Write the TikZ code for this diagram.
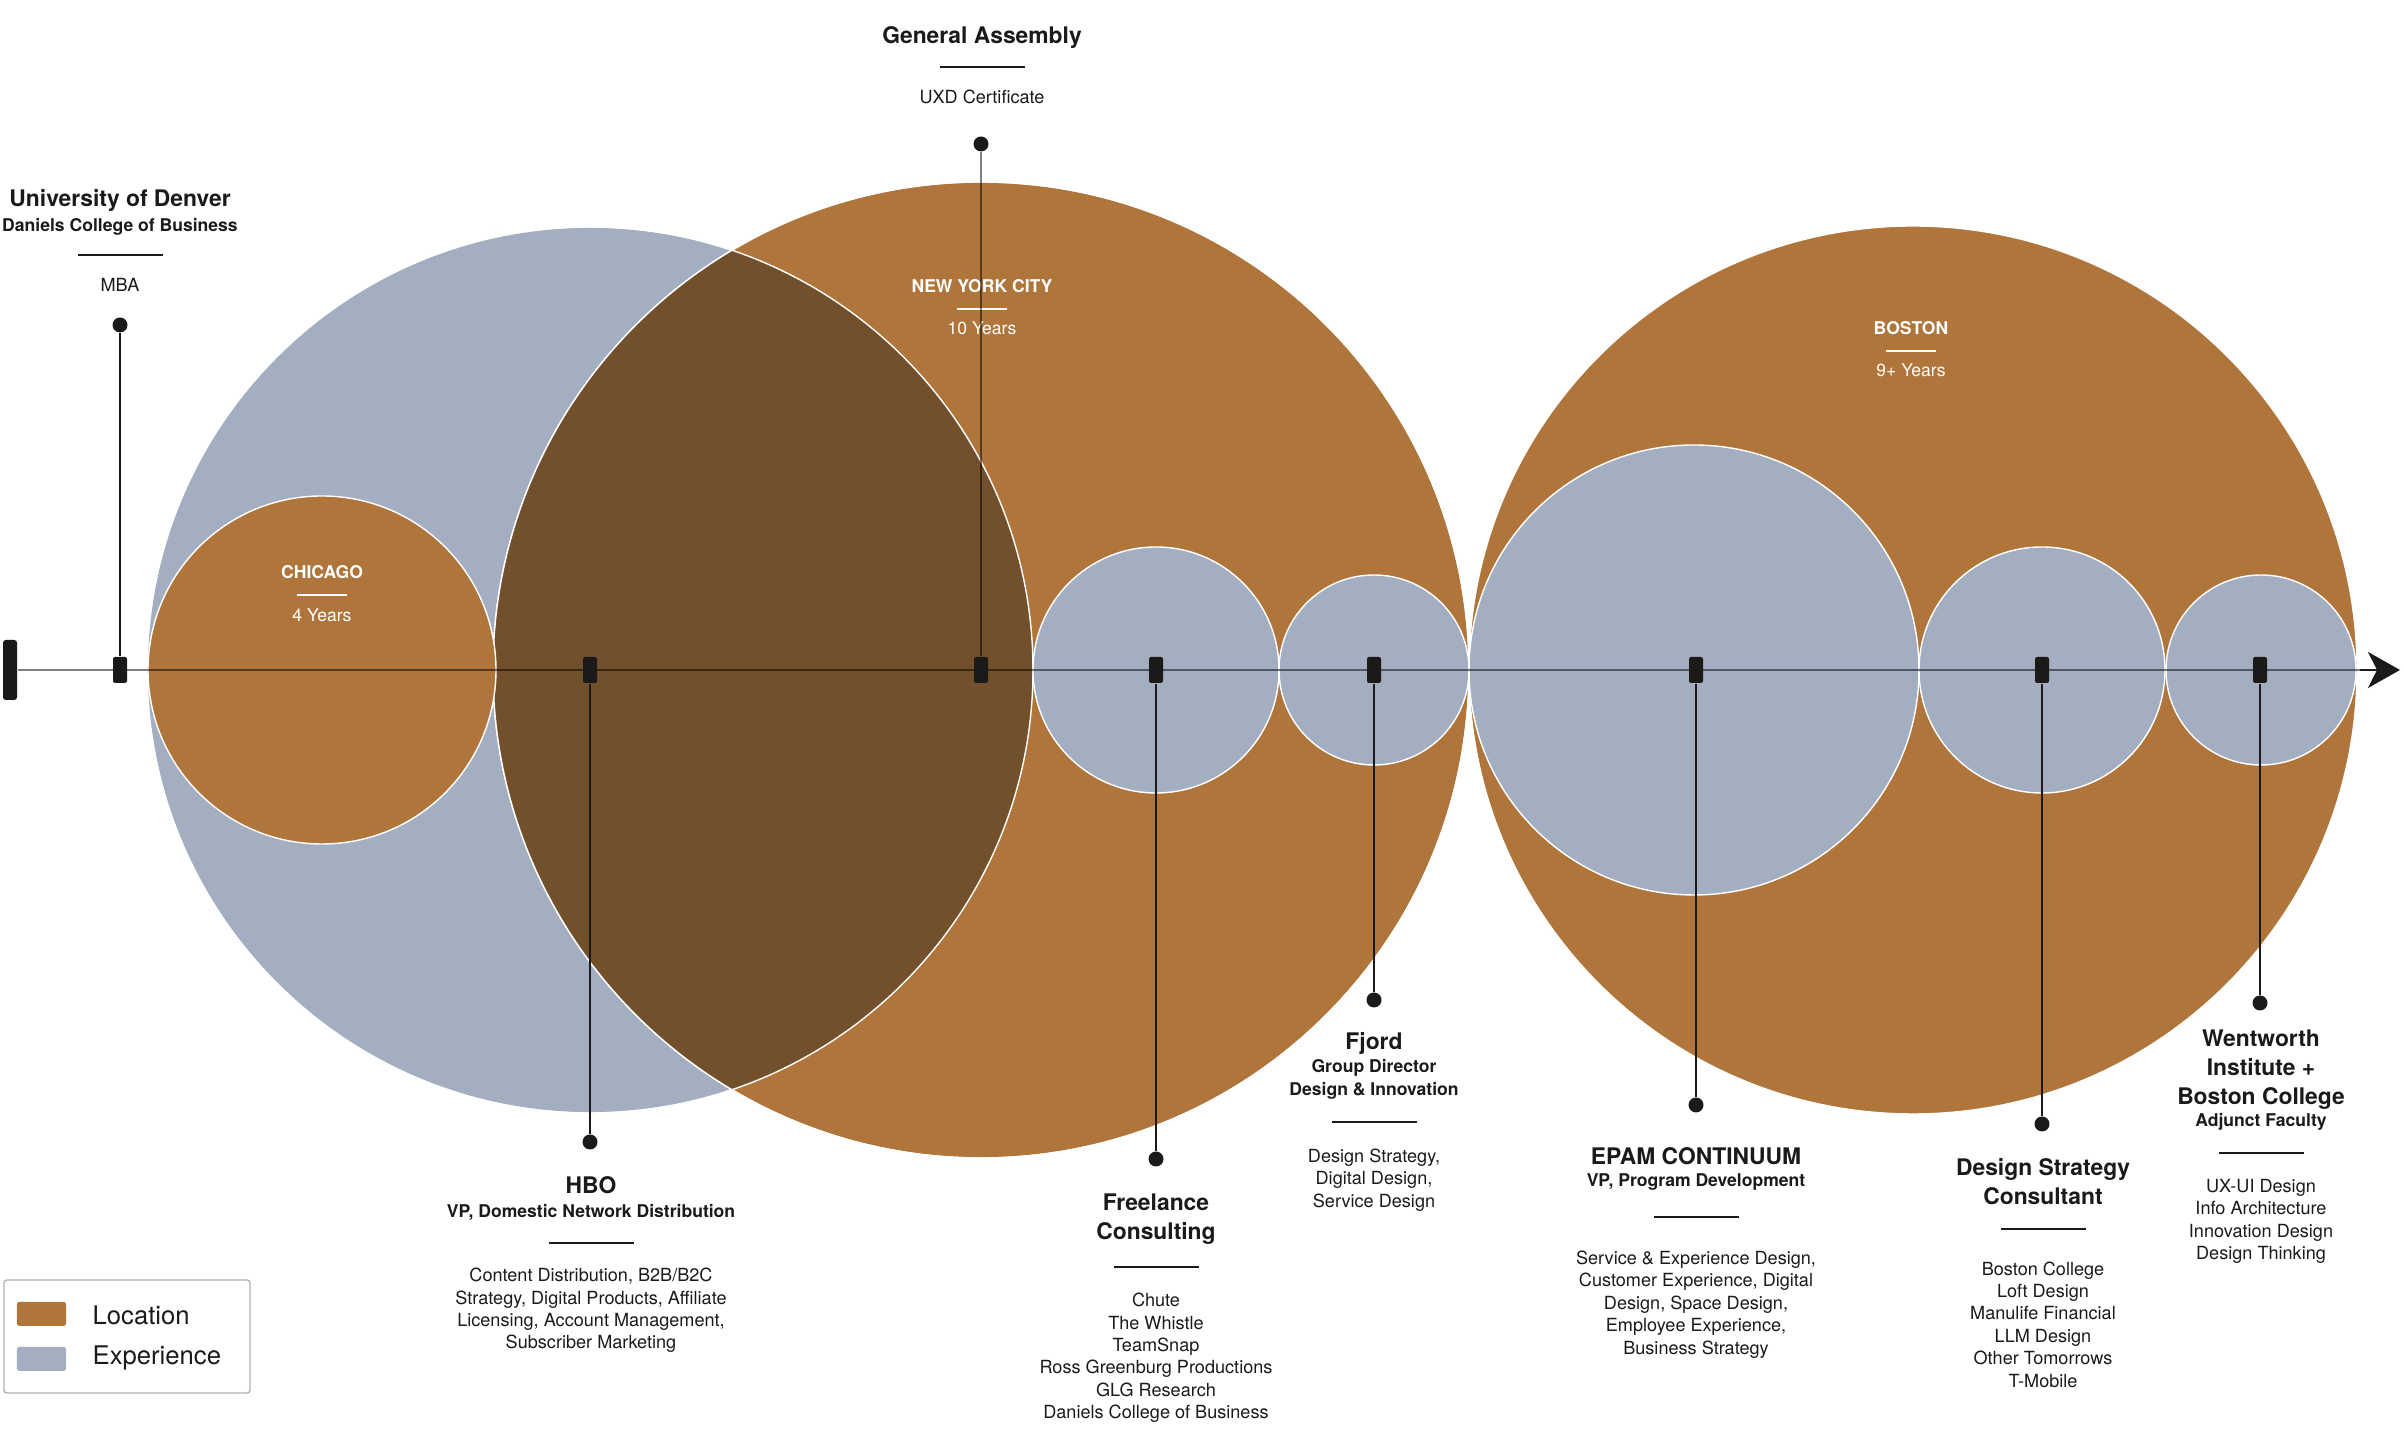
\documentclass[tikz,border=0pt]{standalone}
\usepackage{fontspec}
\setmainfont{TeX Gyre Heros}
\usetikzlibrary{arrows.meta}
\definecolor{location}{HTML}{B0753A}
\definecolor{experience}{HTML}{A3AEC1}
\definecolor{overlap}{HTML}{72502C}
\definecolor{ink}{HTML}{1C1A18}
\newcommand\cvTitle{\fontsize{6.5}{8.25}\selectfont\bfseries}
\newcommand\cvSub{\fontsize{5.0}{6.5}\selectfont\bfseries}
\newcommand\cvBody{\fontsize{5.15}{6.37}\selectfont}
\newcommand\cvCity{\fontsize{5.0}{6}\selectfont}
\newcommand\cvLegend{\fontsize{7.3}{9}\selectfont}

\begin{document}
\begin{tikzpicture}[
  every node/.style={inner sep=0pt, text=ink},
  locdisc/.style={fill=location, draw=white, line width=0.4pt},
  expdisc/.style={fill=experience, draw=white, line width=0.4pt},
  axisline/.style={draw=black, draw opacity=0.5, line width=0.57pt},
  stemline/.style={draw=ink, line width=0.43pt},
  axmark/.style={rectangle, fill=ink, rounded corners=0.6pt, minimum width=0.14cm, minimum height=0.26cm},
  startbar/.style={rectangle, fill=ink, rounded corners=0.8pt, minimum width=0.14cm, minimum height=0.60cm},
  dotpin/.style={circle, fill=ink, minimum size=0.15cm},
  sepline/.style={rectangle, fill=ink, minimum width=0.85cm, minimum height=0.3pt},
  cityline/.style={rectangle, fill=white, minimum width=0.5cm, minimum height=0.3pt},
  hdtxt/.style={font=\cvTitle, align=center},
  subtxt/.style={font=\cvSub, align=center},
  bodytxt/.style={font=\cvBody, align=center},
  citytxt/.style={font=\cvCity, text=white, align=center},
  legendbox/.style={rectangle, draw=black!30, line width=0.4pt, rounded corners=0.8pt, minimum width=2.46cm, minimum height=1.13cm},
  swatch/.style={rectangle, rounded corners=0.5pt, minimum width=0.49cm, minimum height=0.24cm}
]
  \useasboundingbox (0,6.70) rectangle (24.04,-7.83);

  % location and experience discs
  \draw[expdisc] (5.90,0) circle (4.43);
  \draw[locdisc] (9.81,0) circle (4.88);
  \begin{scope}
    \clip (5.90,0) circle (4.43);
    \fill[overlap] (9.81,0) circle (4.88);
  \end{scope}
  \draw[white, line width=0.4pt] (5.90,0) circle (4.43) (9.81,0) circle (4.88);
  \draw[locdisc] (3.22,0) circle (1.74);
  \draw[expdisc] (11.56,0) circle (1.23);
  \draw[expdisc] (13.74,0) circle (0.95);
  \draw[locdisc] (19.13,0) circle (4.44);
  \draw[expdisc] (16.94,0) circle (2.25);
  \draw[expdisc] (20.42,0) circle (1.23);
  \draw[expdisc] (22.61,0) circle (0.95);

  % city labels
  \node[citytxt, font=\cvCity\bfseries] (chiT) at (3.22,0.98) {CHICAGO};
  \node[cityline] (chiR) at (3.22,0.75) {};
  \node[citytxt] (chiY) at (3.22,0.55) {4 Years};
  \node[citytxt, font=\cvCity\bfseries] (nycT) at (9.82,3.84) {NEW YORK CITY};
  \node[cityline] (nycR) at (9.82,3.61) {};
  \node[citytxt] (nycY) at (9.82,3.42) {10 Years};
  \node[citytxt, font=\cvCity\bfseries] (bosT) at (19.11,3.42) {BOSTON};
  \node[cityline] (bosR) at (19.11,3.19) {};
  \node[citytxt] (bosY) at (19.11,3.00) {9+ Years};

  % timeline
  \node[startbar] (start) at (0.10,0) {};
  \coordinate (arrowbase) at (23.60,0); \coordinate (end) at (24.00,0);
  \draw[axisline] (start) -- (arrowbase);
  \draw[ink, line width=0.57pt, -{Stealth[length=0.32cm, width=0.36cm, inset=0.09cm]}] (arrowbase) -- (end);

  % markers on the axis and pins
  \node[axmark] (mDen) at (1.20,0) {};   \node[dotpin] (pDen) at (1.20,3.45) {};
  \node[axmark] (mHbo) at (5.90,0) {};   \node[dotpin] (pHbo) at (5.90,-4.72) {};
  \node[axmark] (mGa) at (9.81,0) {};    \node[dotpin] (pGa) at (9.81,5.26) {};
  \node[axmark] (mFree) at (11.56,0) {}; \node[dotpin] (pFree) at (11.56,-4.89) {};
  \node[axmark] (mFj) at (13.74,0) {};   \node[dotpin] (pFj) at (13.74,-3.30) {};
  \node[axmark] (mEpam) at (16.96,0) {}; \node[dotpin] (pEpam) at (16.96,-4.35) {};
  \node[axmark] (mDs) at (20.42,0) {};   \node[dotpin] (pDs) at (20.42,-4.54) {};
  \node[axmark] (mWen) at (22.60,0) {};  \node[dotpin] (pWen) at (22.60,-3.33) {};
  \draw[stemline] (pDen) -- (mDen);
  \draw[axisline] (pGa) -- (mGa);
  \draw[stemline] (mHbo) -- (pHbo);
  \draw[stemline] (mFree) -- (pFree);
  \draw[stemline] (mFj) -- (pFj);
  \draw[stemline] (mEpam) -- (pEpam);
  \draw[stemline] (mDs) -- (pDs);
  \draw[stemline] (mWen) -- (pWen);

  % University of Denver
  \node[hdtxt] (denT) at (1.20,4.69) {University of Denver};
  \node[subtxt] (denS) at (1.20,4.43) {Daniels College of Business};
  \node[sepline] (denR) at (1.20,4.15) {};
  \node[bodytxt] (denB) at (1.20,3.85) {MBA};

  % General Assembly
  \node[hdtxt] (gaT) at (9.82,6.32) {General Assembly};
  \node[sepline] (gaR) at (9.82,6.03) {};
  \node[bodytxt] (gaB) at (9.82,5.73) {UXD Certificate};

  % HBO
  \node[hdtxt] (hboT) at (5.91,-5.15) {HBO};
  \node[subtxt] (hboS) at (5.91,-5.42) {VP, Domestic Network Distribution};
  \node[sepline] (hboR) at (5.91,-5.73) {};
  \node[bodytxt] (hboB) at (5.91,-6.405) {Content Distribution, B2B/B2C\\Strategy, Digital Products, Affiliate\\
    Licensing, Account Management,\\Subscriber Marketing};

  % Freelance
  \node[hdtxt] (freeT) at (11.56,-5.495) {Freelance\\Consulting};
  \node[sepline] (freeR) at (11.56,-5.97) {};
  \node[bodytxt] (freeB) at (11.56,-6.88) {Chute\\The Whistle\\TeamSnap\\Ross Greenburg Productions\\
    GLG Research\\Daniels College of Business};

  % Fjord
  \node[hdtxt] (fjT) at (13.74,-3.73) {Fjord};
  \node[subtxt] (fjS) at (13.74,-4.095) {Group Director\\Design \& Innovation};
  \node[sepline] (fjR) at (13.74,-4.52) {};
  \node[bodytxt] (fjB) at (13.74,-5.10) {Design Strategy,\\Digital Design,\\Service Design};

  % EPAM Continuum
  \node[hdtxt] (epamT) at (16.96,-4.86) {EPAM CONTINUUM};
  \node[subtxt] (epamS) at (16.96,-5.12) {VP, Program Development};
  \node[sepline] (epamR) at (16.96,-5.47) {};
  \node[bodytxt] (epamB) at (16.96,-6.345) {Service \& Experience Design,\\Customer Experience, Digital\\
    Design, Space Design,\\Employee Experience,\\Business Strategy};

  % Design Strategy Consultant
  \node[hdtxt] (dsT) at (20.43,-5.12) {Design Strategy\\Consultant};
  \node[sepline] (dsR) at (20.43,-5.59) {};
  \node[bodytxt] (dsB) at (20.43,-6.545) {Boston College\\Loft Design\\Manulife Financial\\LLM Design\\
    Other Tomorrows\\T-Mobile};

  % Wentworth + Boston College
  \node[hdtxt] (wenT) at (22.61,-4.00) {Wentworth\\Institute +\\Boston College};
  \node[subtxt] (wenS) at (22.61,-4.52) {Adjunct Faculty};
  \node[sepline] (wenR) at (22.61,-4.83) {};
  \node[bodytxt] (wenB) at (22.61,-5.515) {UX-UI Design\\Info Architecture\\Innovation Design\\Design Thinking};

  % legend
  \node[legendbox] (legend) at (1.27,-6.665) {};
  \node[swatch, fill=location] (swLoc) at (0.415,-6.44) {};
  \node[swatch, fill=experience] (swExp) at (0.415,-6.89) {};
  \node[font=\cvLegend, right] (lgLoc) at (0.92,-6.45) {Location};
  \node[font=\cvLegend, right] (lgExp) at (0.92,-6.88) {Experience};
\end{tikzpicture}
\end{document}
